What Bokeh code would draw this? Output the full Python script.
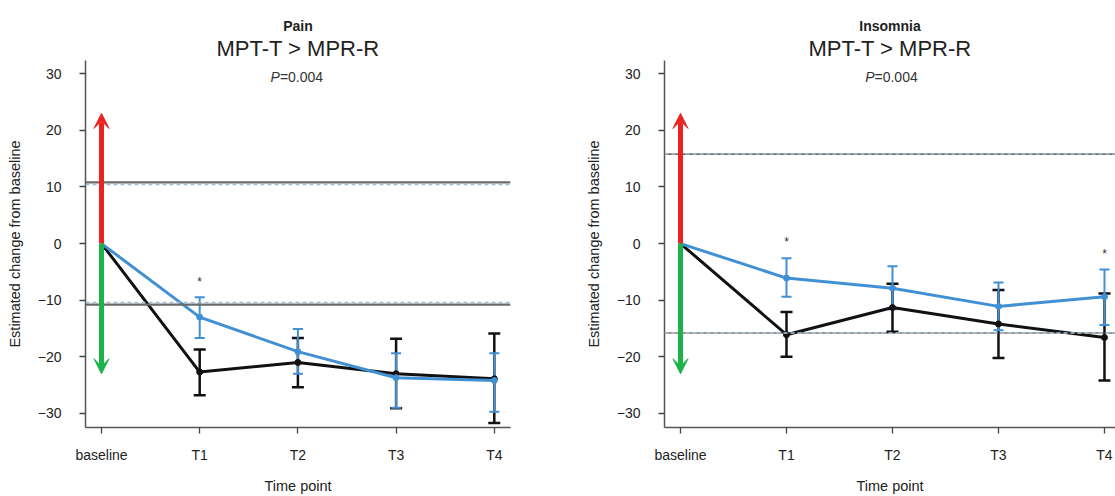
from bokeh.plotting import figure
from bokeh.layouts import row
from bokeh.models import (ColumnDataSource, Whisker, TeeHead, VeeHead, Arrow, Label,
                          FixedTicker, Span, Title)
from bokeh.embed import file_html
from bokeh.resources import INLINE

# ---------------- data ----------------
timepoints = ["baseline", "T1", "T2", "T3", "T4"]
xpos = [0, 1, 2, 3, 4]

pain_black_mean = [0.0, -22.7, -21.0, -23.0, -23.9]
pain_black_low = [0.0, -26.8, -25.4, -29.1, -31.7]
pain_black_high = [0.0, -18.7, -16.7, -16.8, -15.9]
pain_blue_mean = [0.0, -13.0, -19.1, -23.7, -24.2]
pain_blue_low = [0.0, -16.7, -23.0, -29.0, -29.7]
pain_blue_high = [0.0, -9.5, -15.1, -19.4, -19.4]
pain_mcid = [10.6, -10.6]
pain_star = [(1, -6.8)]

ins_black_mean = [0.0, -16.1, -11.3, -14.2, -16.6]
ins_black_low = [0.0, -20.0, -15.6, -20.2, -24.2]
ins_black_high = [0.0, -12.1, -7.1, -8.2, -8.8]
ins_blue_mean = [0.0, -6.1, -7.9, -11.1, -9.4]
ins_blue_low = [0.0, -9.4, -11.6, -15.3, -14.4]
ins_blue_high = [0.0, -2.6, -4.0, -6.9, -4.6]
ins_mcid = [15.8, -15.8]
ins_star = [(1, 0.3), (4, -1.8)]

titles = ["Pain", "Insomnia"]
subtitle = "MPT-T > MPR-R"
pvalue = "=0.004"
arrow_up = 23.0
arrow_down = -23.0

FONT = "Liberation Sans"
BLUE = "#4190d4"
BLACK = "#111111"
RED = "#ea2320"
GREEN = "#1cb34b"
TXT = "#222222"


def panel(title, bm, bl, bh, um, ul, uh, mcid, stars, width, mbl, mbr, xr, mcid_style):
    p = figure(width=width, height=496, x_range=xr, y_range=(-32.5, 32.35),
               output_backend="svg", toolbar_location=None,
               min_border_left=mbl, min_border_right=mbr,
               min_border_top=60, min_border_bottom=68)
    p.outline_line_color = None
    p.xgrid.grid_line_color = None
    p.ygrid.grid_line_color = None
    p.background_fill_color = "white"

    # axes
    for ax in (p.xaxis[0], p.yaxis[0]):
        ax.axis_line_color = "#555555"
        ax.axis_line_width = 1.5
        ax.major_tick_line_color = "#444444"
        ax.major_tick_line_width = 1.3
        ax.major_tick_out = 6
        ax.major_tick_in = 0
        ax.minor_tick_line_color = None
        ax.major_label_text_font = FONT
        ax.major_label_text_font_size = "14px"
        ax.major_label_text_color = TXT
        ax.axis_label_text_font = FONT
        ax.axis_label_text_font_size = "14.5px"
        ax.axis_label_text_font_style = "normal"
        ax.axis_label_text_color = TXT
    p.xaxis.ticker = FixedTicker(ticks=xpos)
    p.xaxis.major_label_overrides = {x: t for x, t in zip(xpos, timepoints)}
    p.xaxis.axis_label = "Time point"
    p.xaxis.major_label_standoff = 13
    p.xaxis.axis_label_standoff = 12
    p.yaxis.ticker = FixedTicker(ticks=[-30, -20, -10, 0, 10, 20, 30])
    p.yaxis.axis_label = "Estimated change from baseline"
    p.yaxis.major_label_standoff = 18
    p.yaxis.axis_label_standoff = 12

    # titles (stacked above the frame)
    p.title.visible = False
    p.add_layout(Title(text=subtitle, align="center", text_font=FONT,
                       text_font_size="22px", text_font_style="normal",
                       text_color=TXT, standoff=0), "above")
    p.add_layout(Title(text=title, align="center", text_font=FONT,
                       text_font_size="14px", text_font_style="bold",
                       text_color=TXT, standoff=0), "above")

    # MCID reference lines
    main_col, main_w, dash_col, off = mcid_style
    for m in mcid:
        sgn = 1 if m > 0 else -1
        p.add_layout(Span(location=m + sgn * off, dimension="width", line_color=main_col,
                          line_width=main_w))
        p.add_layout(Span(location=m - sgn * off, dimension="width", line_color=dash_col,
                          line_width=1.3, line_dash="4 3"))

    # arrows
    p.add_layout(Arrow(x_start=0, y_start=0, x_end=0, y_end=arrow_up,
                       line_color=RED, line_width=5,
                       end=VeeHead(size=15, fill_color=RED, line_color=RED, line_width=1)))
    p.add_layout(Arrow(x_start=0, y_start=0, x_end=0, y_end=arrow_down,
                       line_color=GREEN, line_width=5,
                       end=VeeHead(size=15, fill_color=GREEN, line_color=GREEN, line_width=1)))

    # black series
    sb = ColumnDataSource(dict(x=xpos[1:], m=bm[1:], lo=bl[1:], hi=bh[1:]))
    p.line(xpos, bm, line_color=BLACK, line_width=3)
    p.add_layout(Whisker(source=sb, base="x", lower="lo", upper="hi",
                         line_color=BLACK, line_width=2.5,
                         lower_head=TeeHead(size=12, line_color=BLACK, line_width=2.5),
                         upper_head=TeeHead(size=12, line_color=BLACK, line_width=2.5)))
    p.scatter("x", "m", source=sb, size=6, color=BLACK)

    # blue series
    su = ColumnDataSource(dict(x=xpos[1:], m=um[1:], lo=ul[1:], hi=uh[1:]))
    p.line(xpos, um, line_color=BLUE, line_width=3)
    p.add_layout(Whisker(source=su, base="x", lower="lo", upper="hi",
                         line_color=BLUE, line_width=2,
                         lower_head=TeeHead(size=10, line_color=BLUE, line_width=2),
                         upper_head=TeeHead(size=10, line_color=BLUE, line_width=2)))
    p.scatter("x", "m", source=su, size=6, color=BLUE)

    # stars
    for sx, sy in stars:
        p.add_layout(Label(x=sx, y=sy, text="*", text_font=FONT, text_font_size="12px",
                           text_color="#333333", text_align="center",
                           text_baseline="middle"))

    # p-value line (inside the frame, under the titles)
    p.add_layout(Label(x=2, y=29.5, x_offset=-18, text="P", text_font=FONT,
                       text_font_size="14px", text_font_style="italic",
                       text_color="#333333", text_align="right", text_baseline="middle"))
    p.add_layout(Label(x=2, y=29.5, x_offset=-18, text=pvalue, text_font=FONT,
                       text_font_size="14px", text_color="#333333",
                       text_align="left", text_baseline="middle"))
    return p


p1 = panel(titles[0], pain_black_mean, pain_black_low, pain_black_high,
           pain_blue_mean, pain_blue_low, pain_blue_high, pain_mcid, pain_star,
           580, 85, 70, (-0.163, 4.165), ("#6a6a6a", 2.2, "#a3bdd6", 0.2))
p2 = panel(titles[1], ins_black_mean, ins_black_low, ins_black_high,
           ins_blue_mean, ins_blue_low, ins_blue_high, ins_mcid, ins_star,
           535, 84, 0, (-0.151, 4.104), ("#333333", 1.2, "#b0c4d8", 0.0))

layout = row(p1, p2)
open("out.html", "w").write(file_html(layout, INLINE))
